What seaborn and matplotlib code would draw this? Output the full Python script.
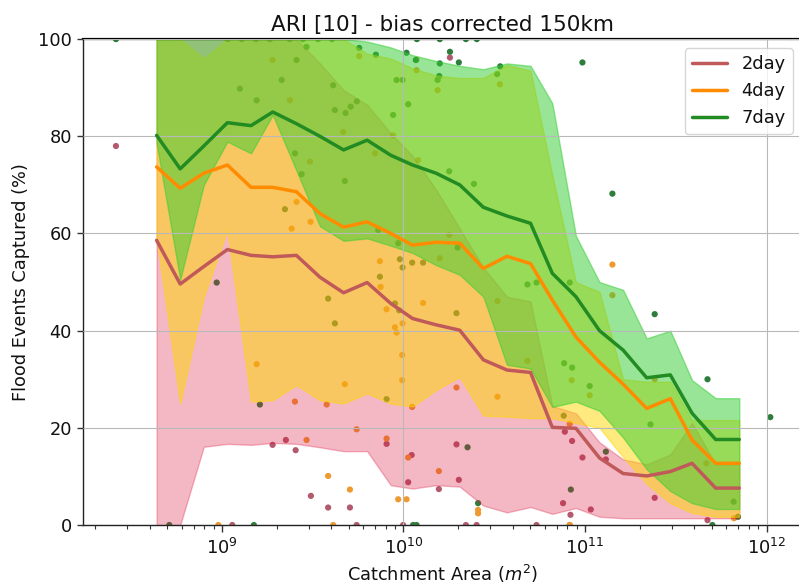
import numpy as np
import pandas as pd
import matplotlib
matplotlib.use("Agg")
import matplotlib.pyplot as plt
import seaborn as sns

# ---------------- data ----------------
series_names = ["2day", "4day", "7day"]

# bin centres, log10 of catchment area (m^2)
bin_log10_area = [8.64, 8.77, 8.90, 9.03, 9.16, 9.28, 9.41, 9.54, 9.67, 9.80, 9.93, 10.05, 10.18,
                  10.31, 10.44, 10.57, 10.70, 10.82, 10.95, 11.08, 11.21, 11.34, 11.47, 11.59, 11.72, 11.85]

median_2day = [58.6, 49.6, 53.2, 56.7, 55.5, 55.2, 55.5, 51.0, 47.8, 49.9, 45.6, 42.5, 41.2, 40.1, 34.0, 31.9,
               31.4, 20.1, 19.9, 13.8, 10.6, 10.1, 11.0, 12.7, 7.6, 7.6]
median_4day = [73.7, 69.3, 72.4, 74.1, 69.5, 69.5, 68.6, 64.1, 61.3, 62.4, 60.0, 57.6, 58.2, 58.0, 52.8, 55.3,
               53.8, 46.3, 38.7, 33.5, 29.0, 24.0, 26.0, 17.5, 12.7, 12.7]
median_7day = [80.2, 73.3, 78.0, 82.8, 82.2, 85.0, 82.6, 80.0, 77.2, 79.2, 76.1, 74.1, 72.4, 70.0, 65.4, 63.6,
               62.1, 51.8, 47.0, 40.0, 36.0, 30.3, 30.9, 23.0, 17.6, 17.6]

low_2day = [0, 0, 16.1, 16.7, 16.5, 16.9, 16.7, 16.0, 15.2, 15.2, 8.2, 7.5, 8.2, 7.9, 4.0, 2.6,
            3.7, 2.3, 3.5, 1.7, 1.4, 1.4, 1.4, 1.4, 1.4, 1.4]
high_2day = [100, 100, 100, 100, 100, 100, 100, 95.0, 89.5, 86.5, 80.6, 76.0, 69.0, 61.0, 53.0, 47.0,
             46.0, 24.5, 23.0, 17.0, 13.5, 12.5, 14.5, 21.0, 12.5, 12.5]
low_4day = [59.0, 25.0, 47.0, 60.7, 25.4, 25.7, 28.8, 25.7, 25.0, 27.1, 25.0, 24.4, 27.8, 30.5, 22.5, 22.3,
            22.0, 22.0, 21.0, 20.0, 14.0, 8.5, 4.5, 2.5, 1.7, 1.7]
high_4day = [100, 100, 96.0, 100, 100, 100, 100, 100, 100, 97.0, 96.0, 94.0, 92.5, 92.0, 92.0, 94.7,
             93.5, 72.0, 50.0, 48.0, 30.0, 29.5, 29.5, 21.6, 21.6, 21.6]
low_7day = [78.6, 50.5, 70.0, 78.9, 76.5, 84.4, 73.0, 61.5, 58.5, 59.0, 57.5, 56.0, 53.5, 51.5, 47.0, 33.0,
            32.2, 24.3, 25.4, 23.5, 18.0, 11.5, 7.0, 4.5, 3.3, 3.3]
high_7day = [100, 100, 100, 100, 100, 100, 100, 100, 100, 99.5, 98.3, 96.7, 95.5, 94.5, 93.8, 95.0,
             94.5, 86.8, 59.5, 50.0, 48.4, 38.4, 40.0, 29.8, 26.1, 26.1]

# individual catchments: log10(area), % captured
pts_2day_log10_area = [8.416, 9.279, 9.352, 9.406, 9.490, 9.585, 9.705, 9.907, 10.045, 10.292, 10.305, 10.026,
                       10.195, 10.889, 10.929, 10.986, 10.879, 10.920, 11.032, 11.115, 11.384, 11.675, 10.256,
                       9.057, 9.742, 9.998, 10.344, 10.403, 10.733, 10.916]
pts_2day_value = [78.0, 16.5, 17.5, 15.4, 6.0, 3.6, 3.6, 16.7, 14.4, 16.6, 9.3, 8.8,
                  7.4, 19.2, 17.3, 13.9, 4.5, 2.1, 3.2, 13.5, 5.6, 1.0, 96.2,
                  0, 0, 0, 0, 0, 0, 0]

pts_4day_log10_area = [9.756, 9.279, 9.374, 9.668, 9.943, 9.843, 9.485, 9.411, 9.384, 9.488, 9.191, 9.402,
                       9.577, 9.677, 9.907, 9.953, 9.962, 9.466, 9.585, 9.705, 9.742, 9.907, 9.971, 10.017,
                       9.874, 10.108, 9.995, 9.993, 9.993, 10.518, 10.683, 10.292, 10.518, 10.048, 10.026,
                       10.195, 10.411, 10.411, 10.916, 10.927, 11.026, 10.072, 10.072, 10.188, 10.081, 10.531,
                       10.252, 10.200, 9.870, 11.151, 11.151, 11.384, 11.669, 11.821, 8.980, 9.613, 10.916]
pts_4day_value = [96.5, 95.7, 87.4, 80.9, 80.2, 76.5, 74.8, 66.5, 61.0, 62.4, 33.1, 25.4,
                  24.8, 29.0, 44.4, 40.7, 39.6, 17.5, 10.1, 7.3, 19.7, 17.8, 5.3, 5.3,
                  49.0, 45.7, 41.5, 35.0, 29.8, 46.1, 33.8, 28.3, 26.4, 24.3, 13.9,
                  11.1, 3.1, 2.4, 20.8, 29.8, 26.7, 95.8, 93.6, 89.5, 75.1, 90.7,
                  59.7, 54.9, 54.3, 53.6, 47.3, 30.0, 12.7, 1.4, 0, 0, 0]

pts_7day_log10_area = [8.416, 9.033, 9.110, 9.187, 9.264, 9.374, 9.446, 9.529, 9.606, 10.074, 10.200, 10.344,
                       10.404, 9.466, 9.756, 9.848, 9.962, 9.099, 9.191, 9.411, 9.329, 9.613, 9.622, 9.681,
                       9.709, 9.743, 9.943, 9.402, 9.439, 9.677, 9.347, 9.861, 9.971, 8.971, 9.585, 9.622,
                       9.209, 9.907, 9.953, 9.976, 9.870, 10.292, 10.683, 10.733, 10.353, 10.411, 10.883,
                       10.922, 10.885, 10.929, 11.026, 10.017, 10.200, 10.256, 10.305, 10.197, 10.188, 9.995,
                       10.026, 10.252, 10.388, 10.533, 10.516, 10.986, 10.298, 9.980, 9.995, 10.048, 10.108,
                       11.151, 10.916, 11.384, 11.675, 12.021, 11.361, 11.115, 11.819, 11.843, 11.702, 8.710,
                       9.176, 10.053, 10.072, 10.068]
pts_7day_value = [100, 100, 100, 100, 100, 100, 100, 100, 100, 100, 100, 100,
                  100, 98.4, 98.2, 96.8, 91.6, 89.8, 87.4, 95.7, 91.6, 90.5, 85.4, 84.8,
                  86.1, 87.2, 84.4, 76.5, 72.2, 70.8, 65.0, 60.7, 58.0, 49.9, 46.6, 41.5,
                  24.8, 25.9, 45.6, 44.2, 51.1, 43.6, 49.5, 49.9, 16.0, 4.5, 22.5,
                  7.3, 33.3, 32.4, 28.6, 97.2, 95.0, 97.4, 95.2, 92.4, 91.6, 91.6,
                  86.6, 72.8, 70.2, 94.4, 92.8, 95.2, 57.1, 54.7, 53.0, 54.0, 54.0,
                  68.2, 49.9, 43.4, 30.0, 22.2, 20.7, 15.1, 4.8, 1.7, 0, 0,
                  0, 0, 0, 95.7]

# decades whose vertical grid line is shown in the reference
x_grid_decades = [10, 12]

line_colors = {"2day": "#c05a5a", "4day": "#ff8c00", "7day": "#228b22"}
point_colors = {"2day": "#b35a6e", "4day": "#ef9a30", "7day": "#2e7d3c"}
band_colors = {"2day": ("crimson", 0.30), "4day": ("gold", 0.50), "7day": ("limegreen", 0.50)}

# ---------------- tables ----------------
medians = {"2day": median_2day, "4day": median_4day, "7day": median_7day}
lows = {"2day": low_2day, "4day": low_4day, "7day": low_7day}
highs = {"2day": high_2day, "4day": high_4day, "7day": high_7day}
bin_area = 10.0 ** np.array(bin_log10_area)

lines_df = pd.concat([
    pd.DataFrame({"area": bin_area, "captured": medians[s], "series": s}) for s in series_names
], ignore_index=True)

pts_df = pd.concat([
    pd.DataFrame({"area": 10.0 ** np.array(pts_2day_log10_area), "captured": pts_2day_value, "series": "2day"}),
    pd.DataFrame({"area": 10.0 ** np.array(pts_4day_log10_area), "captured": pts_4day_value, "series": "4day"}),
    pd.DataFrame({"area": 10.0 ** np.array(pts_7day_log10_area), "captured": pts_7day_value, "series": "7day"}),
], ignore_index=True)

# ---------------- plot ----------------
sns.set_theme(style="whitegrid")
plt.rcParams["font.family"] = ["DejaVu Sans"]
plt.rcParams["axes.edgecolor"] = "#222222"
plt.rcParams["text.color"] = "#111111"
plt.rcParams["axes.labelcolor"] = "#111111"
plt.rcParams["xtick.color"] = "#111111"
plt.rcParams["ytick.color"] = "#111111"

fig = plt.figure(figsize=(7.99, 5.84), dpi=100)
ax = fig.add_axes([0.1039, 0.101, 0.8995, 0.832])
ax.set_xscale("log")

sns.scatterplot(data=pts_df, x="area", y="captured", hue="series", palette=point_colors,
                s=20, linewidth=0, legend=False, ax=ax, zorder=1)

for s in series_names:
    c, a = band_colors[s]
    ax.fill_between(bin_area, lows[s], highs[s], color=c, alpha=a, zorder=1.5)

sns.lineplot(data=lines_df, x="area", y="captured", hue="series", palette=line_colors,
             estimator=None, linewidth=2.5, ax=ax, zorder=3)

ax.set_xlim(10 ** 8.2346, 10 ** 12.194)
ax.set_ylim(0, 100)
ax.set_yticks([0, 20, 40, 60, 80, 100])

ax.grid(True, which="major", color="#b8b8b8", linewidth=0.8, zorder=2.5)
ax.grid(False, which="minor")
ax.set_axisbelow(False)

ax.tick_params(axis="x", which="major", bottom=True, length=5, width=1, color="#333333",
               labelsize=12.8, pad=4)
ax.tick_params(axis="x", which="minor", bottom=True, length=3, width=0.8, color="#333333")
ax.tick_params(axis="y", which="major", left=True, length=4, width=1, color="#333333",
               labelsize=12.8, pad=4)

for tick in ax.xaxis.get_major_ticks():
    loc = tick.get_loc()
    if loc > 0:
        dec = int(round(np.log10(loc)))
        tick.gridline.set_visible(dec in x_grid_decades)

for side in ["left", "bottom", "top", "right"]:
    ax.spines[side].set_color("#222222")
    ax.spines[side].set_linewidth(1.0)
ax.spines["top"].set_linewidth(1.6)
ax.spines["top"].set_color("black")

ax.set_xlabel("Catchment Area ($m^2$)", fontsize=12.8, labelpad=4)
ax.set_ylabel("Flood Events Captured (%)", fontsize=12.8, labelpad=6)
ax.set_title("ARI [10] - bias corrected 150km", fontsize=15.5, pad=6)

handles, labels = ax.get_legend_handles_labels()
keep = [(h, l) for h, l in zip(handles, labels) if l in series_names]
leg = ax.legend([h for h, _ in keep], [l for _, l in keep], loc="upper right",
                fontsize=12.8, frameon=True, borderaxespad=0.5)
for h in leg.get_lines():
    h.set_linewidth(2.5)

fig.savefig("out.png", dpi=100)
